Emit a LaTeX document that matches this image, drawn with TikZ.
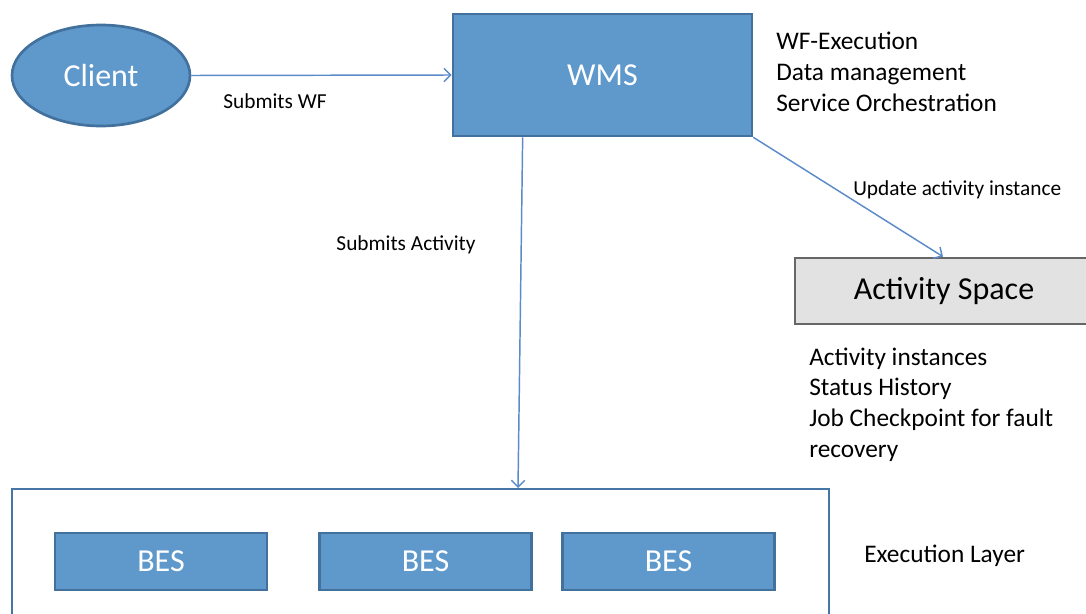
\documentclass[tikz,border=0pt]{standalone}
\usepackage{fontspec}
\setmainfont{Carlito}
\usetikzlibrary{arrows.meta, shapes.geometric}
\definecolor{boxblue}{HTML}{5F99CC}
\definecolor{boxedge}{HTML}{41719C}
\definecolor{linkblue}{HTML}{5B8BC9}
\definecolor{spacegray}{HTML}{E2E2E2}
\definecolor{spaceedge}{HTML}{666666}
\tikzset{
  bluebox/.style={draw=boxedge, fill=boxblue, line width=2pt, text=white,
    font=\fontsize{24}{28}\selectfont, inner sep=0pt},
  link/.style={->, draw=linkblue, line width=1.1pt},
  lbl/.style={font=\fontsize{16}{19}\selectfont, inner sep=0pt},
  notes/.style={anchor=west, align=left, inner sep=0pt,
    font=\fontsize{19}{23}\selectfont}
}

\begin{document}
\begin{tikzpicture}[x=0.75pt, y=-0.75pt, >={Straight Barb[length=5pt, width=10pt]}]
  \useasboundingbox (0,0) rectangle (1086,614);
  \clip (0,0) rectangle (1086,614);
  % top row
  \node[bluebox, ellipse, minimum width=133.5pt, minimum height=75.75pt] (client) at (101,75.5) {Client};
  \node[bluebox, rectangle, minimum width=224.25pt, minimum height=91.5pt] (wms) at (602.5,75) {WMS};
  \node[notes] (wmsnotes) at (776,72) {WF-Execution\\Data management\\Service Orchestration};
  % activity space
  \node[draw=spaceedge, fill=spacegray, line width=2pt, minimum width=223.5pt, minimum height=49.5pt,
    font=\fontsize{24}{28}\selectfont] (space) at (944,291) {Activity Space};
  \node[notes] (spacenotes) at (809,404.5) {Activity instances\\Status History\\Job Checkpoint for fault\\recovery};
  % execution layer
  \node[draw=boxedge!80!linkblue, line width=1.5pt, minimum width=612.75pt, minimum height=105pt] (exec) at (420.5,559) {};
  \foreach \x/\name in {161/besa, 425.5/besb, 668.5/besc}
    \node[bluebox, rectangle, minimum width=159pt, minimum height=42.75pt] (\name) at (\x,561.5) {BES};
  \node[notes] (execlabel) at (864,556) {Execution Layer};
  % connectors
  \draw[link] (client.east) -- (wms.west);
  \node[lbl] (submitwf) at (275,101) {Submits WF};
  \draw[link] ([xshift=53.25pt]wms.south west) -- ([xshift=380.25pt]exec.north west);
  \node[lbl] (submitact) at (406,245) {Submits Activity};
  \draw[link] (wms.south east) -- ([xshift=-0.75pt]space.north);
  \node[lbl, anchor=west] (update) at (853,190) {Update activity instance};
\end{tikzpicture}
\end{document}
